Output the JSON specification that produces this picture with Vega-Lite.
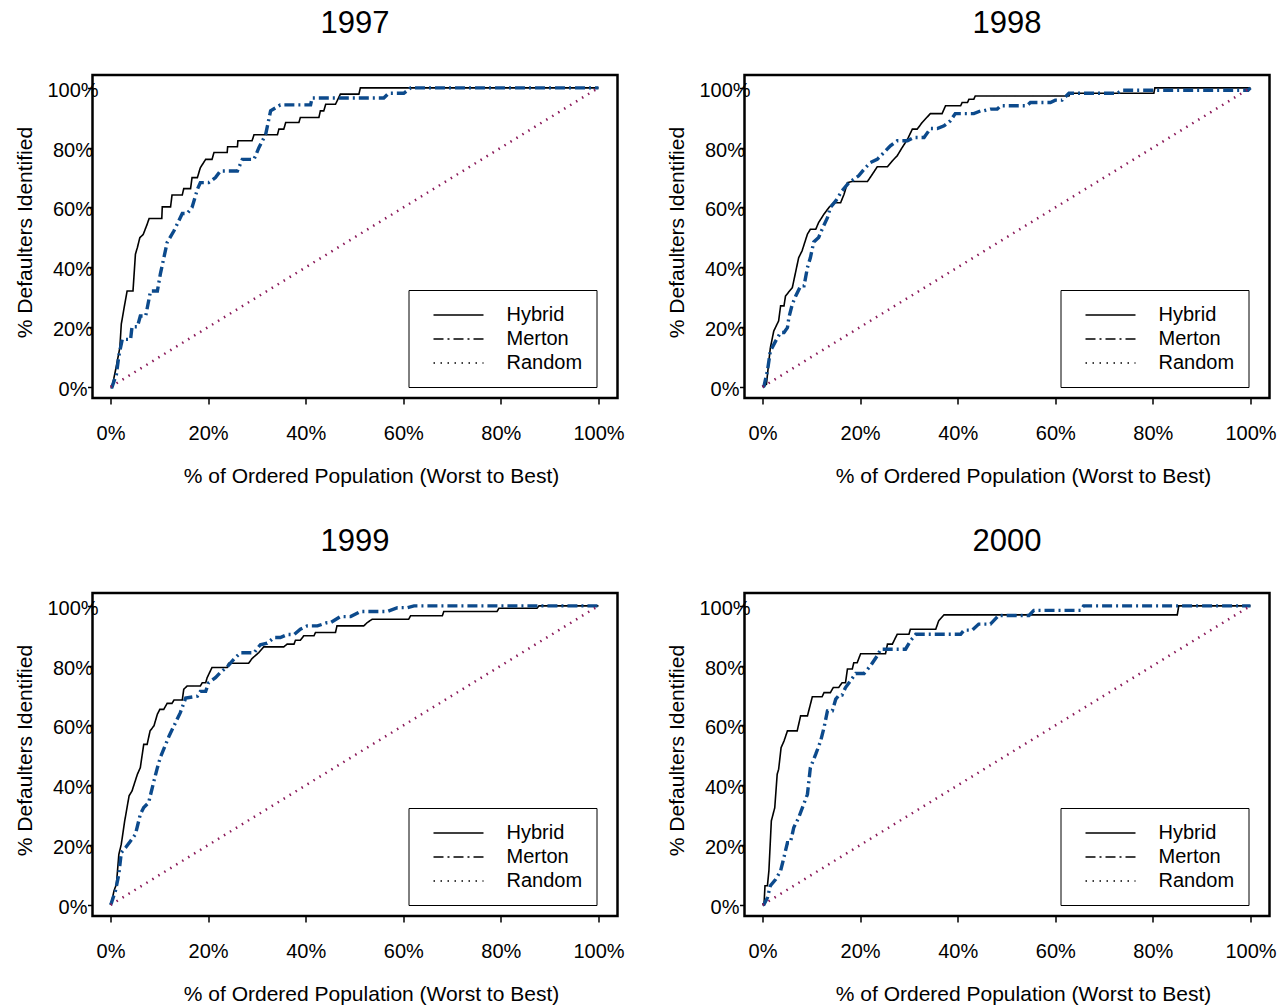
{
"$schema": "https://vega.github.io/schema/vega-lite/v6.json",
"background": "white",
"padding": {"left": 12.5, "top": 6, "right": 0, "bottom": 0},
"datasets": {"roc": [
{"yr":"1997","m":"Hybrid","x":0,"y":0},{"yr":"1997","m":"Hybrid","x":0.3,"y":0},{"yr":"1997","m":"Hybrid","x":1.0,"y":5.4},{"yr":"1997","m":"Hybrid","x":1.9,"y":13.1},{"yr":"1997","m":"Hybrid","x":2.2,"y":21},{"yr":"1997","m":"Hybrid","x":2.9,"y":27.6},{"yr":"1997","m":"Hybrid","x":3.4,"y":32.1},{"yr":"1997","m":"Hybrid","x":4.6,"y":32.1},{"yr":"1997","m":"Hybrid","x":5.1,"y":44.4},{"yr":"1997","m":"Hybrid","x":5.5,"y":46.6},{"yr":"1997","m":"Hybrid","x":6.0,"y":49.9},{"yr":"1997","m":"Hybrid","x":6.7,"y":51},{"yr":"1997","m":"Hybrid","x":7.5,"y":54.4},{"yr":"1997","m":"Hybrid","x":7.9,"y":56.3},{"yr":"1997","m":"Hybrid","x":10.5,"y":56.3},{"yr":"1997","m":"Hybrid","x":10.6,"y":60.2},{"yr":"1997","m":"Hybrid","x":12.3,"y":60.2},{"yr":"1997","m":"Hybrid","x":12.6,"y":64.2},{"yr":"1997","m":"Hybrid","x":14.7,"y":64.2},{"yr":"1997","m":"Hybrid","x":15.0,"y":66.3},{"yr":"1997","m":"Hybrid","x":16.4,"y":66.3},{"yr":"1997","m":"Hybrid","x":16.7,"y":70},{"yr":"1997","m":"Hybrid","x":17.8,"y":70},{"yr":"1997","m":"Hybrid","x":18.4,"y":73.3},{"yr":"1997","m":"Hybrid","x":19.5,"y":76.1},{"yr":"1997","m":"Hybrid","x":20.8,"y":76.1},{"yr":"1997","m":"Hybrid","x":21.2,"y":78.4},{"yr":"1997","m":"Hybrid","x":23.9,"y":78.4},{"yr":"1997","m":"Hybrid","x":24.0,"y":80.3},{"yr":"1997","m":"Hybrid","x":26.0,"y":80.3},{"yr":"1997","m":"Hybrid","x":26.1,"y":82.3},{"yr":"1997","m":"Hybrid","x":29.0,"y":82.3},{"yr":"1997","m":"Hybrid","x":29.4,"y":84.3},{"yr":"1997","m":"Hybrid","x":34.2,"y":84.3},{"yr":"1997","m":"Hybrid","x":34.5,"y":86.2},{"yr":"1997","m":"Hybrid","x":35.5,"y":86.2},{"yr":"1997","m":"Hybrid","x":35.9,"y":88.4},{"yr":"1997","m":"Hybrid","x":38.6,"y":88.4},{"yr":"1997","m":"Hybrid","x":38.9,"y":90.1},{"yr":"1997","m":"Hybrid","x":42.7,"y":90.1},{"yr":"1997","m":"Hybrid","x":43.0,"y":92.3},{"yr":"1997","m":"Hybrid","x":43.7,"y":92.3},{"yr":"1997","m":"Hybrid","x":44.1,"y":94.5},{"yr":"1997","m":"Hybrid","x":46.1,"y":94.5},{"yr":"1997","m":"Hybrid","x":47.1,"y":97.9},{"yr":"1997","m":"Hybrid","x":50.9,"y":97.9},{"yr":"1997","m":"Hybrid","x":51.2,"y":100},{"yr":"1997","m":"Hybrid","x":100,"y":100},
{"yr":"1997","m":"Merton","x":0,"y":0},{"yr":"1997","m":"Merton","x":0.3,"y":0},{"yr":"1997","m":"Merton","x":1.2,"y":4.2},{"yr":"1997","m":"Merton","x":1.7,"y":10.4},{"yr":"1997","m":"Merton","x":2.4,"y":15.9},{"yr":"1997","m":"Merton","x":4.1,"y":15.9},{"yr":"1997","m":"Merton","x":4.4,"y":20.1},{"yr":"1997","m":"Merton","x":5.5,"y":20.1},{"yr":"1997","m":"Merton","x":6.1,"y":23.7},{"yr":"1997","m":"Merton","x":7.2,"y":23.7},{"yr":"1997","m":"Merton","x":8.2,"y":32.1},{"yr":"1997","m":"Merton","x":9.6,"y":32.1},{"yr":"1997","m":"Merton","x":10.2,"y":37.7},{"yr":"1997","m":"Merton","x":11.6,"y":48.3},{"yr":"1997","m":"Merton","x":13.0,"y":52.2},{"yr":"1997","m":"Merton","x":14.7,"y":58},{"yr":"1997","m":"Merton","x":15.7,"y":58},{"yr":"1997","m":"Merton","x":16.7,"y":60},{"yr":"1997","m":"Merton","x":17.8,"y":66.1},{"yr":"1997","m":"Merton","x":18.4,"y":68.3},{"yr":"1997","m":"Merton","x":20.1,"y":68.3},{"yr":"1997","m":"Merton","x":21.5,"y":70},{"yr":"1997","m":"Merton","x":22.5,"y":72.2},{"yr":"1997","m":"Merton","x":26.0,"y":72.2},{"yr":"1997","m":"Merton","x":27.0,"y":76.1},{"yr":"1997","m":"Merton","x":29.4,"y":76.1},{"yr":"1997","m":"Merton","x":30.4,"y":80},{"yr":"1997","m":"Merton","x":31.8,"y":84.5},{"yr":"1997","m":"Merton","x":32.8,"y":92.3},{"yr":"1997","m":"Merton","x":34.8,"y":94.3},{"yr":"1997","m":"Merton","x":41.0,"y":94.3},{"yr":"1997","m":"Merton","x":41.3,"y":96.6},{"yr":"1997","m":"Merton","x":56.0,"y":96.6},{"yr":"1997","m":"Merton","x":57.0,"y":98.2},{"yr":"1997","m":"Merton","x":60.1,"y":98.2},{"yr":"1997","m":"Merton","x":61.5,"y":100},{"yr":"1997","m":"Merton","x":100,"y":100},
{"yr":"1997","m":"Random","x":0,"y":0},{"yr":"1997","m":"Random","x":100,"y":100},
{"yr":"1998","m":"Hybrid","x":0,"y":0},{"yr":"1998","m":"Hybrid","x":0.3,"y":0.3},{"yr":"1998","m":"Hybrid","x":0.8,"y":0.9},{"yr":"1998","m":"Hybrid","x":1.3,"y":8.7},{"yr":"1998","m":"Hybrid","x":1.6,"y":13.1},{"yr":"1998","m":"Hybrid","x":2.3,"y":18.7},{"yr":"1998","m":"Hybrid","x":3.3,"y":22.1},{"yr":"1998","m":"Hybrid","x":3.7,"y":27.1},{"yr":"1998","m":"Hybrid","x":4.4,"y":27.1},{"yr":"1998","m":"Hybrid","x":4.7,"y":30.4},{"yr":"1998","m":"Hybrid","x":6.1,"y":33.2},{"yr":"1998","m":"Hybrid","x":6.4,"y":35.5},{"yr":"1998","m":"Hybrid","x":7.4,"y":43.2},{"yr":"1998","m":"Hybrid","x":8.1,"y":45.5},{"yr":"1998","m":"Hybrid","x":9.2,"y":51.1},{"yr":"1998","m":"Hybrid","x":9.8,"y":52.7},{"yr":"1998","m":"Hybrid","x":10.9,"y":52.7},{"yr":"1998","m":"Hybrid","x":11.5,"y":55},{"yr":"1998","m":"Hybrid","x":12.6,"y":57.8},{"yr":"1998","m":"Hybrid","x":13.6,"y":60},{"yr":"1998","m":"Hybrid","x":14.6,"y":61.6},{"yr":"1998","m":"Hybrid","x":16.0,"y":61.6},{"yr":"1998","m":"Hybrid","x":16.7,"y":64.4},{"yr":"1998","m":"Hybrid","x":17.4,"y":68.3},{"yr":"1998","m":"Hybrid","x":18.4,"y":68.7},{"yr":"1998","m":"Hybrid","x":21.5,"y":68.7},{"yr":"1998","m":"Hybrid","x":22.5,"y":71.1},{"yr":"1998","m":"Hybrid","x":23.5,"y":73.6},{"yr":"1998","m":"Hybrid","x":25.6,"y":73.6},{"yr":"1998","m":"Hybrid","x":26.6,"y":75.6},{"yr":"1998","m":"Hybrid","x":27.6,"y":77.3},{"yr":"1998","m":"Hybrid","x":28.6,"y":80},{"yr":"1998","m":"Hybrid","x":29.7,"y":82.8},{"yr":"1998","m":"Hybrid","x":30.7,"y":86.2},{"yr":"1998","m":"Hybrid","x":31.7,"y":86.2},{"yr":"1998","m":"Hybrid","x":32.7,"y":88.4},{"yr":"1998","m":"Hybrid","x":34.4,"y":91.4},{"yr":"1998","m":"Hybrid","x":36.8,"y":91.4},{"yr":"1998","m":"Hybrid","x":37.5,"y":94},{"yr":"1998","m":"Hybrid","x":40.6,"y":94},{"yr":"1998","m":"Hybrid","x":40.9,"y":95.1},{"yr":"1998","m":"Hybrid","x":42.0,"y":95.1},{"yr":"1998","m":"Hybrid","x":42.3,"y":96.2},{"yr":"1998","m":"Hybrid","x":43.3,"y":96.2},{"yr":"1998","m":"Hybrid","x":43.6,"y":97.3},{"yr":"1998","m":"Hybrid","x":62.8,"y":97.3},{"yr":"1998","m":"Hybrid","x":63.0,"y":98.2},{"yr":"1998","m":"Hybrid","x":80.2,"y":98.2},{"yr":"1998","m":"Hybrid","x":80.4,"y":100},{"yr":"1998","m":"Hybrid","x":100,"y":100},
{"yr":"1998","m":"Merton","x":0,"y":0},{"yr":"1998","m":"Merton","x":0.3,"y":0.3},{"yr":"1998","m":"Merton","x":1.0,"y":5.4},{"yr":"1998","m":"Merton","x":1.6,"y":12},{"yr":"1998","m":"Merton","x":2.7,"y":15.4},{"yr":"1998","m":"Merton","x":3.7,"y":18.2},{"yr":"1998","m":"Merton","x":4.4,"y":18.2},{"yr":"1998","m":"Merton","x":5.1,"y":19.8},{"yr":"1998","m":"Merton","x":5.4,"y":23.2},{"yr":"1998","m":"Merton","x":6.1,"y":27.7},{"yr":"1998","m":"Merton","x":6.8,"y":30.4},{"yr":"1998","m":"Merton","x":7.8,"y":33.8},{"yr":"1998","m":"Merton","x":8.5,"y":33.8},{"yr":"1998","m":"Merton","x":9.2,"y":39.9},{"yr":"1998","m":"Merton","x":9.8,"y":43.2},{"yr":"1998","m":"Merton","x":10.5,"y":48.5},{"yr":"1998","m":"Merton","x":11.5,"y":50},{"yr":"1998","m":"Merton","x":12.2,"y":52.7},{"yr":"1998","m":"Merton","x":13.3,"y":56.6},{"yr":"1998","m":"Merton","x":13.9,"y":60},{"yr":"1998","m":"Merton","x":15.0,"y":62.2},{"yr":"1998","m":"Merton","x":16.3,"y":65.6},{"yr":"1998","m":"Merton","x":17.7,"y":68.3},{"yr":"1998","m":"Merton","x":19.7,"y":70.6},{"yr":"1998","m":"Merton","x":20.8,"y":72.8},{"yr":"1998","m":"Merton","x":22.1,"y":75},{"yr":"1998","m":"Merton","x":23.5,"y":76.1},{"yr":"1998","m":"Merton","x":24.9,"y":78.4},{"yr":"1998","m":"Merton","x":26.2,"y":80.6},{"yr":"1998","m":"Merton","x":27.6,"y":82.3},{"yr":"1998","m":"Merton","x":29.7,"y":82.3},{"yr":"1998","m":"Merton","x":31.0,"y":83.4},{"yr":"1998","m":"Merton","x":33.1,"y":83.4},{"yr":"1998","m":"Merton","x":34.4,"y":86.4},{"yr":"1998","m":"Merton","x":35.8,"y":86.4},{"yr":"1998","m":"Merton","x":37.2,"y":87.3},{"yr":"1998","m":"Merton","x":38.5,"y":89},{"yr":"1998","m":"Merton","x":39.5,"y":91.4},{"yr":"1998","m":"Merton","x":43.3,"y":91.4},{"yr":"1998","m":"Merton","x":44.7,"y":92.3},{"yr":"1998","m":"Merton","x":45.3,"y":92.3},{"yr":"1998","m":"Merton","x":46.7,"y":92.9},{"yr":"1998","m":"Merton","x":48.1,"y":92.9},{"yr":"1998","m":"Merton","x":48.8,"y":94},{"yr":"1998","m":"Merton","x":54.2,"y":94},{"yr":"1998","m":"Merton","x":54.9,"y":95.1},{"yr":"1998","m":"Merton","x":59.0,"y":95.1},{"yr":"1998","m":"Merton","x":60.0,"y":95.9},{"yr":"1998","m":"Merton","x":61.4,"y":95.9},{"yr":"1998","m":"Merton","x":62.8,"y":98.2},{"yr":"1998","m":"Merton","x":72.7,"y":98.2},{"yr":"1998","m":"Merton","x":73.7,"y":99.2},{"yr":"1998","m":"Merton","x":99.5,"y":99.2},{"yr":"1998","m":"Merton","x":100,"y":100},
{"yr":"1998","m":"Random","x":0,"y":0},{"yr":"1998","m":"Random","x":100,"y":100},
{"yr":"1999","m":"Hybrid","x":0,"y":0},{"yr":"1999","m":"Hybrid","x":0.2,"y":0.8},{"yr":"1999","m":"Hybrid","x":0.7,"y":4.7},{"yr":"1999","m":"Hybrid","x":1.2,"y":6.9},{"yr":"1999","m":"Hybrid","x":1.7,"y":16.9},{"yr":"1999","m":"Hybrid","x":2.2,"y":20.3},{"yr":"1999","m":"Hybrid","x":2.9,"y":28.1},{"yr":"1999","m":"Hybrid","x":3.8,"y":36.5},{"yr":"1999","m":"Hybrid","x":4.4,"y":38.1},{"yr":"1999","m":"Hybrid","x":5.5,"y":43.7},{"yr":"1999","m":"Hybrid","x":6.1,"y":45.9},{"yr":"1999","m":"Hybrid","x":6.8,"y":53.7},{"yr":"1999","m":"Hybrid","x":7.5,"y":53.7},{"yr":"1999","m":"Hybrid","x":8.1,"y":58.2},{"yr":"1999","m":"Hybrid","x":8.9,"y":59.9},{"yr":"1999","m":"Hybrid","x":9.6,"y":63.8},{"yr":"1999","m":"Hybrid","x":10.1,"y":65.4},{"yr":"1999","m":"Hybrid","x":10.9,"y":65.4},{"yr":"1999","m":"Hybrid","x":11.6,"y":67.4},{"yr":"1999","m":"Hybrid","x":12.6,"y":67.4},{"yr":"1999","m":"Hybrid","x":13.0,"y":68.5},{"yr":"1999","m":"Hybrid","x":14.7,"y":68.5},{"yr":"1999","m":"Hybrid","x":15.0,"y":72.1},{"yr":"1999","m":"Hybrid","x":15.7,"y":73.2},{"yr":"1999","m":"Hybrid","x":18.4,"y":73.2},{"yr":"1999","m":"Hybrid","x":18.8,"y":74.3},{"yr":"1999","m":"Hybrid","x":19.5,"y":74.3},{"yr":"1999","m":"Hybrid","x":19.8,"y":76},{"yr":"1999","m":"Hybrid","x":20.8,"y":79.4},{"yr":"1999","m":"Hybrid","x":23.9,"y":79.4},{"yr":"1999","m":"Hybrid","x":24.2,"y":80.8},{"yr":"1999","m":"Hybrid","x":28.3,"y":80.8},{"yr":"1999","m":"Hybrid","x":29.0,"y":82.4},{"yr":"1999","m":"Hybrid","x":30.4,"y":84.4},{"yr":"1999","m":"Hybrid","x":31.4,"y":86.3},{"yr":"1999","m":"Hybrid","x":35.5,"y":86.3},{"yr":"1999","m":"Hybrid","x":36.2,"y":87.2},{"yr":"1999","m":"Hybrid","x":37.6,"y":87.2},{"yr":"1999","m":"Hybrid","x":37.9,"y":88.5},{"yr":"1999","m":"Hybrid","x":38.9,"y":88.5},{"yr":"1999","m":"Hybrid","x":39.6,"y":90},{"yr":"1999","m":"Hybrid","x":41.7,"y":90},{"yr":"1999","m":"Hybrid","x":42.0,"y":91.1},{"yr":"1999","m":"Hybrid","x":46.1,"y":91.1},{"yr":"1999","m":"Hybrid","x":46.4,"y":93.3},{"yr":"1999","m":"Hybrid","x":51.9,"y":93.3},{"yr":"1999","m":"Hybrid","x":52.6,"y":94.4},{"yr":"1999","m":"Hybrid","x":53.6,"y":95.5},{"yr":"1999","m":"Hybrid","x":61.1,"y":95.5},{"yr":"1999","m":"Hybrid","x":61.5,"y":96.7},{"yr":"1999","m":"Hybrid","x":68.0,"y":96.7},{"yr":"1999","m":"Hybrid","x":68.3,"y":98.1},{"yr":"1999","m":"Hybrid","x":79.2,"y":98.1},{"yr":"1999","m":"Hybrid","x":79.6,"y":99.2},{"yr":"1999","m":"Hybrid","x":87.4,"y":99.2},{"yr":"1999","m":"Hybrid","x":87.8,"y":100},{"yr":"1999","m":"Hybrid","x":100,"y":100},
{"yr":"1999","m":"Merton","x":0,"y":0},{"yr":"1999","m":"Merton","x":0.2,"y":0.8},{"yr":"1999","m":"Merton","x":1.0,"y":4.7},{"yr":"1999","m":"Merton","x":1.7,"y":10.3},{"yr":"1999","m":"Merton","x":2.2,"y":17.5},{"yr":"1999","m":"Merton","x":3.1,"y":19.2},{"yr":"1999","m":"Merton","x":4.1,"y":21.4},{"yr":"1999","m":"Merton","x":5.1,"y":23.6},{"yr":"1999","m":"Merton","x":6.1,"y":30.3},{"yr":"1999","m":"Merton","x":6.8,"y":32.6},{"yr":"1999","m":"Merton","x":7.8,"y":34.2},{"yr":"1999","m":"Merton","x":8.9,"y":41.5},{"yr":"1999","m":"Merton","x":9.6,"y":45.9},{"yr":"1999","m":"Merton","x":10.2,"y":49.3},{"yr":"1999","m":"Merton","x":11.3,"y":53.7},{"yr":"1999","m":"Merton","x":12.0,"y":56.5},{"yr":"1999","m":"Merton","x":13.0,"y":59.9},{"yr":"1999","m":"Merton","x":14.3,"y":64.3},{"yr":"1999","m":"Merton","x":15.4,"y":69.2},{"yr":"1999","m":"Merton","x":17.8,"y":69.8},{"yr":"1999","m":"Merton","x":18.4,"y":71.4},{"yr":"1999","m":"Merton","x":19.5,"y":71.4},{"yr":"1999","m":"Merton","x":20.1,"y":74.3},{"yr":"1999","m":"Merton","x":21.5,"y":76},{"yr":"1999","m":"Merton","x":22.5,"y":77.7},{"yr":"1999","m":"Merton","x":23.9,"y":79.6},{"yr":"1999","m":"Merton","x":25.3,"y":82.2},{"yr":"1999","m":"Merton","x":26.6,"y":84.3},{"yr":"1999","m":"Merton","x":29.4,"y":84.3},{"yr":"1999","m":"Merton","x":30.7,"y":87},{"yr":"1999","m":"Merton","x":32.1,"y":87.5},{"yr":"1999","m":"Merton","x":33.5,"y":89.4},{"yr":"1999","m":"Merton","x":34.8,"y":89.4},{"yr":"1999","m":"Merton","x":36.2,"y":90.4},{"yr":"1999","m":"Merton","x":37.6,"y":90.4},{"yr":"1999","m":"Merton","x":38.9,"y":92.2},{"yr":"1999","m":"Merton","x":40.3,"y":93.3},{"yr":"1999","m":"Merton","x":42.4,"y":93.3},{"yr":"1999","m":"Merton","x":44.4,"y":94.4},{"yr":"1999","m":"Merton","x":45.1,"y":94.4},{"yr":"1999","m":"Merton","x":47.1,"y":96.4},{"yr":"1999","m":"Merton","x":49.2,"y":96.4},{"yr":"1999","m":"Merton","x":51.2,"y":98.1},{"yr":"1999","m":"Merton","x":56.7,"y":98.1},{"yr":"1999","m":"Merton","x":58.8,"y":99.4},{"yr":"1999","m":"Merton","x":60.8,"y":99.4},{"yr":"1999","m":"Merton","x":62.2,"y":100},{"yr":"1999","m":"Merton","x":100,"y":100},
{"yr":"1999","m":"Random","x":0,"y":0},{"yr":"1999","m":"Random","x":100,"y":100},
{"yr":"2000","m":"Hybrid","x":0,"y":0},{"yr":"2000","m":"Hybrid","x":0.3,"y":0.2},{"yr":"2000","m":"Hybrid","x":0.5,"y":6.4},{"yr":"2000","m":"Hybrid","x":1.0,"y":6.4},{"yr":"2000","m":"Hybrid","x":1.3,"y":11.4},{"yr":"2000","m":"Hybrid","x":1.6,"y":21.4},{"yr":"2000","m":"Hybrid","x":1.8,"y":28.1},{"yr":"2000","m":"Hybrid","x":2.5,"y":32.5},{"yr":"2000","m":"Hybrid","x":3.0,"y":43.7},{"yr":"2000","m":"Hybrid","x":3.3,"y":45.4},{"yr":"2000","m":"Hybrid","x":3.8,"y":52.6},{"yr":"2000","m":"Hybrid","x":4.4,"y":54.8},{"yr":"2000","m":"Hybrid","x":5.1,"y":58.2},{"yr":"2000","m":"Hybrid","x":7.1,"y":58.2},{"yr":"2000","m":"Hybrid","x":7.8,"y":63.2},{"yr":"2000","m":"Hybrid","x":9.2,"y":63.2},{"yr":"2000","m":"Hybrid","x":10.2,"y":69.6},{"yr":"2000","m":"Hybrid","x":12.2,"y":69.6},{"yr":"2000","m":"Hybrid","x":12.6,"y":71.0},{"yr":"2000","m":"Hybrid","x":13.9,"y":71.0},{"yr":"2000","m":"Hybrid","x":14.5,"y":72.7},{"yr":"2000","m":"Hybrid","x":15.6,"y":72.7},{"yr":"2000","m":"Hybrid","x":16.3,"y":74.3},{"yr":"2000","m":"Hybrid","x":17.0,"y":74.3},{"yr":"2000","m":"Hybrid","x":17.4,"y":78.9},{"yr":"2000","m":"Hybrid","x":18.4,"y":78.9},{"yr":"2000","m":"Hybrid","x":18.7,"y":81.0},{"yr":"2000","m":"Hybrid","x":19.4,"y":81.0},{"yr":"2000","m":"Hybrid","x":20.1,"y":84.0},{"yr":"2000","m":"Hybrid","x":25.2,"y":84.0},{"yr":"2000","m":"Hybrid","x":25.6,"y":87.2},{"yr":"2000","m":"Hybrid","x":26.6,"y":87.2},{"yr":"2000","m":"Hybrid","x":27.6,"y":90.5},{"yr":"2000","m":"Hybrid","x":30.0,"y":90.5},{"yr":"2000","m":"Hybrid","x":30.3,"y":92.2},{"yr":"2000","m":"Hybrid","x":35.5,"y":92.2},{"yr":"2000","m":"Hybrid","x":36.1,"y":95},{"yr":"2000","m":"Hybrid","x":37.2,"y":97.0},{"yr":"2000","m":"Hybrid","x":85.0,"y":97.0},{"yr":"2000","m":"Hybrid","x":85.3,"y":100},{"yr":"2000","m":"Hybrid","x":100,"y":100},
{"yr":"2000","m":"Merton","x":0,"y":0},{"yr":"2000","m":"Merton","x":0.3,"y":0.2},{"yr":"2000","m":"Merton","x":1.0,"y":2.4},{"yr":"2000","m":"Merton","x":1.6,"y":6.4},{"yr":"2000","m":"Merton","x":2.7,"y":8.6},{"yr":"2000","m":"Merton","x":3.7,"y":11.4},{"yr":"2000","m":"Merton","x":4.2,"y":14.7},{"yr":"2000","m":"Merton","x":5.1,"y":20.8},{"yr":"2000","m":"Merton","x":5.7,"y":20.8},{"yr":"2000","m":"Merton","x":6.4,"y":25.9},{"yr":"2000","m":"Merton","x":7.4,"y":29.2},{"yr":"2000","m":"Merton","x":9.2,"y":37.0},{"yr":"2000","m":"Merton","x":9.8,"y":45.9},{"yr":"2000","m":"Merton","x":10.9,"y":50.4},{"yr":"2000","m":"Merton","x":11.9,"y":54.8},{"yr":"2000","m":"Merton","x":12.6,"y":59.3},{"yr":"2000","m":"Merton","x":13.3,"y":64.9},{"yr":"2000","m":"Merton","x":14.3,"y":64.9},{"yr":"2000","m":"Merton","x":15.0,"y":68.8},{"yr":"2000","m":"Merton","x":15.7,"y":70.2},{"yr":"2000","m":"Merton","x":16.3,"y":70.2},{"yr":"2000","m":"Merton","x":17.0,"y":72.7},{"yr":"2000","m":"Merton","x":18.0,"y":74.9},{"yr":"2000","m":"Merton","x":19.1,"y":77.4},{"yr":"2000","m":"Merton","x":20.8,"y":77.4},{"yr":"2000","m":"Merton","x":22.1,"y":79.9},{"yr":"2000","m":"Merton","x":23.5,"y":83.3},{"yr":"2000","m":"Merton","x":24.2,"y":85.5},{"yr":"2000","m":"Merton","x":29.3,"y":85.5},{"yr":"2000","m":"Merton","x":30.3,"y":88.3},{"yr":"2000","m":"Merton","x":31.4,"y":90.5},{"yr":"2000","m":"Merton","x":40.6,"y":90.5},{"yr":"2000","m":"Merton","x":41.3,"y":91.9},{"yr":"2000","m":"Merton","x":43.0,"y":91.9},{"yr":"2000","m":"Merton","x":44.3,"y":93.9},{"yr":"2000","m":"Merton","x":46.7,"y":93.9},{"yr":"2000","m":"Merton","x":48.4,"y":96.8},{"yr":"2000","m":"Merton","x":54.6,"y":96.8},{"yr":"2000","m":"Merton","x":55.6,"y":98.5},{"yr":"2000","m":"Merton","x":65.2,"y":98.5},{"yr":"2000","m":"Merton","x":65.8,"y":100},{"yr":"2000","m":"Merton","x":100,"y":100},
{"yr":"2000","m":"Random","x":0,"y":0},{"yr":"2000","m":"Random","x":100,"y":100}
]},
"data": {"name": "roc"},
"columns": 2,
"bounds": "flush",
"spacing": {"row": 195, "column": 127},
"resolve": {"scale": {"color": "independent", "strokeDash": "independent", "strokeWidth": "independent"}, "legend": {"strokeDash": "independent"}},
"concat": [
{"title": {"text": "1997"}, "width": 525, "height": 323, "transform": [{"filter": "datum.yr == '1997'"}], "mark": {"type": "line", "strokeCap": "butt"},
 "encoding": {
  "x": {"field": "x", "type": "quantitative", "scale": {"domain": [-3.7, 103.9], "nice": false, "zero": false}, "axis": {"values": [0,20,40,60,80,100], "labelExpr": "datum.value + '%'", "title": "% of Ordered Population (Worst to Best)"}},
  "y": {"field": "y", "type": "quantitative", "scale": {"domain": [-3.7, 104.3], "nice": false, "zero": false}, "axis": {"values": [0,20,40,60,80,100], "labelExpr": "datum.value + '%'", "title": "% Defaulters Identified"}},
  "color": {"field": "m", "type": "nominal", "scale": {"domain": ["Random","Hybrid","Merton"], "range": ["#8b1a5a","#000000","#0c4a8c"]}, "legend": null},
  "strokeWidth": {"field": "m", "type": "ordinal", "scale": {"domain": ["Merton","Random","Hybrid"], "range": [3.4,1.6,2]}, "legend": null},
  "strokeDash": {"field": "m", "type": "nominal", "scale": {"domain": ["Hybrid","Merton","Random"], "range": [[1,0],[10,4,2,4],[1.5,5.5]]}, "legend": {"title": null, "orient": "none", "legendX": 316, "legendY": 215}}
 }},
{"title": {"text": "1998"}, "width": 525, "height": 323, "transform": [{"filter": "datum.yr == '1998'"}], "mark": {"type": "line", "strokeCap": "butt"},
 "encoding": {
  "x": {"field": "x", "type": "quantitative", "scale": {"domain": [-3.7, 103.9], "nice": false, "zero": false}, "axis": {"values": [0,20,40,60,80,100], "labelExpr": "datum.value + '%'", "title": "% of Ordered Population (Worst to Best)"}},
  "y": {"field": "y", "type": "quantitative", "scale": {"domain": [-3.7, 104.3], "nice": false, "zero": false}, "axis": {"values": [0,20,40,60,80,100], "labelExpr": "datum.value + '%'", "title": "% Defaulters Identified"}},
  "color": {"field": "m", "type": "nominal", "scale": {"domain": ["Random","Hybrid","Merton"], "range": ["#8b1a5a","#000000","#0c4a8c"]}, "legend": null},
  "strokeWidth": {"field": "m", "type": "ordinal", "scale": {"domain": ["Merton","Random","Hybrid"], "range": [3.4,1.6,2]}, "legend": null},
  "strokeDash": {"field": "m", "type": "nominal", "scale": {"domain": ["Hybrid","Merton","Random"], "range": [[1,0],[10,4,2,4],[1.5,5.5]]}, "legend": {"title": null, "orient": "none", "legendX": 316, "legendY": 215}}
 }},
{"title": {"text": "1999"}, "width": 525, "height": 323, "transform": [{"filter": "datum.yr == '1999'"}], "mark": {"type": "line", "strokeCap": "butt"},
 "encoding": {
  "x": {"field": "x", "type": "quantitative", "scale": {"domain": [-3.7, 103.9], "nice": false, "zero": false}, "axis": {"values": [0,20,40,60,80,100], "labelExpr": "datum.value + '%'", "title": "% of Ordered Population (Worst to Best)"}},
  "y": {"field": "y", "type": "quantitative", "scale": {"domain": [-3.7, 104.3], "nice": false, "zero": false}, "axis": {"values": [0,20,40,60,80,100], "labelExpr": "datum.value + '%'", "title": "% Defaulters Identified"}},
  "color": {"field": "m", "type": "nominal", "scale": {"domain": ["Random","Hybrid","Merton"], "range": ["#8b1a5a","#000000","#0c4a8c"]}, "legend": null},
  "strokeWidth": {"field": "m", "type": "ordinal", "scale": {"domain": ["Merton","Random","Hybrid"], "range": [3.4,1.6,2]}, "legend": null},
  "strokeDash": {"field": "m", "type": "nominal", "scale": {"domain": ["Hybrid","Merton","Random"], "range": [[1,0],[10,4,2,4],[1.5,5.5]]}, "legend": {"title": null, "orient": "none", "legendX": 316, "legendY": 215}}
 }},
{"title": {"text": "2000"}, "width": 525, "height": 323, "transform": [{"filter": "datum.yr == '2000'"}], "mark": {"type": "line", "strokeCap": "butt"},
 "encoding": {
  "x": {"field": "x", "type": "quantitative", "scale": {"domain": [-3.7, 103.9], "nice": false, "zero": false}, "axis": {"values": [0,20,40,60,80,100], "labelExpr": "datum.value + '%'", "title": "% of Ordered Population (Worst to Best)"}},
  "y": {"field": "y", "type": "quantitative", "scale": {"domain": [-3.7, 104.3], "nice": false, "zero": false}, "axis": {"values": [0,20,40,60,80,100], "labelExpr": "datum.value + '%'", "title": "% Defaulters Identified"}},
  "color": {"field": "m", "type": "nominal", "scale": {"domain": ["Random","Hybrid","Merton"], "range": ["#8b1a5a","#000000","#0c4a8c"]}, "legend": null},
  "strokeWidth": {"field": "m", "type": "ordinal", "scale": {"domain": ["Merton","Random","Hybrid"], "range": [3.4,1.6,2]}, "legend": null},
  "strokeDash": {"field": "m", "type": "nominal", "scale": {"domain": ["Hybrid","Merton","Random"], "range": [[1,0],[10,4,2,4],[1.5,5.5]]}, "legend": {"title": null, "orient": "none", "legendX": 316, "legendY": 215}}
 }}
],
"config": {
  "font": "Liberation Sans",
  "view": {"stroke": "black", "strokeWidth": 2.5},
  "title": {"fontSize": 31, "fontWeight": "normal", "color": "black", "anchor": "middle", "frame": "group", "offset": 35},
  "axis": {"grid": false, "domain": false, "labelFontSize": 20, "labelColor": "black", "titleFontSize": 21, "titleFontWeight": "normal", "titleColor": "black", "tickColor": "black", "tickWidth": 1.5, "labelFlush": false, "labelOverlap": false},
  "axisX": {"tickSize": 6, "labelPadding": 19, "titleX": 278.5, "titleY": 84, "titleBaseline": "alphabetic"},
  "axisY": {"tickSize": 5, "labelPadding": 15, "labelAlign": "center", "labelOffset": 2.5, "titleX": -61.5, "titleY": 157, "titleBaseline": "alphabetic", "titleAngle": -90},
  "legend": {"strokeColor": "black", "fillColor": "white", "padding": 14, "symbolType": "M-2.5,0H2.5", "symbolSize": 400, "symbolStrokeWidth": 1.3, "symbolStrokeColor": "black", "symbolOffset": 25, "labelFontSize": 20, "labelColor": "black", "labelOffset": 37, "rowPadding": 3}
}
}
